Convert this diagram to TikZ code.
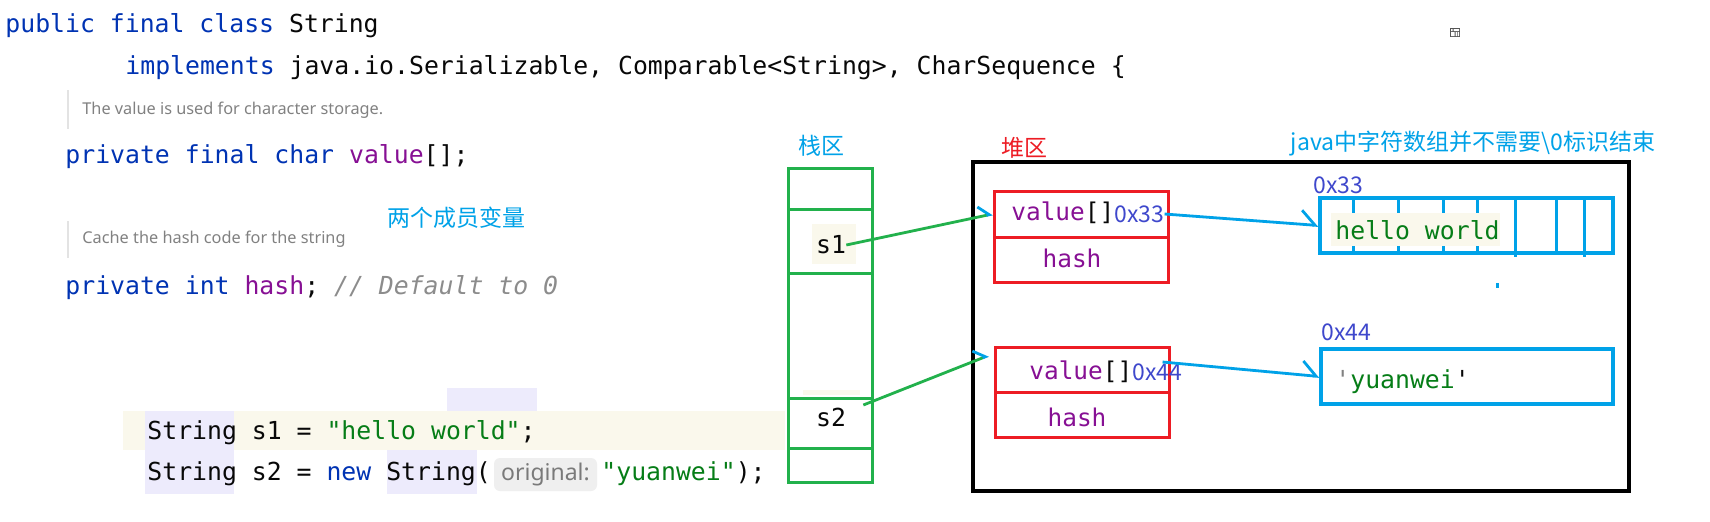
\documentclass[tikz,border=0pt]{standalone}
\usepackage{fontspec}
\setmonofont{DejaVu Sans Mono}
\newfontfamily\cjk{Noto Sans CJK SC}
\newfontfamily\uifont{Noto Sans}
\usetikzlibrary{arrows.meta}

\definecolor{codeblack}{HTML}{080808}
\definecolor{kwblue}{HTML}{0033B3}
\definecolor{fieldpurple}{HTML}{871094}
\definecolor{strgreen}{HTML}{067D17}
\definecolor{cmtgray}{HTML}{8C8C8C}
\definecolor{docgray}{HTML}{818181}
\definecolor{docbar}{HTML}{E3E3E3}
\definecolor{hintbg}{HTML}{EFEFEF}
\definecolor{hintgray}{HTML}{7A7A7A}
\definecolor{cream}{HTML}{FAF8EC}
\definecolor{lavender}{HTML}{EDEBFC}
\definecolor{paintblue}{HTML}{00A2E8}
\definecolor{paintred}{HTML}{ED1C24}
\definecolor{paintgreen}{HTML}{22B14C}
\definecolor{indigo}{HTML}{3F48CC}
\definecolor{icongray}{HTML}{555555}

\begin{document}
\begin{tikzpicture}
[x=.5pt, y=-.5pt,
 code/.style={anchor=base west, inner sep=0pt, text=codeblack, font=\ttfamily\fontsize{12.4}{15}\selectfont},
 doc/.style={anchor=base west, inner sep=0pt, text=docgray, font=\uifont\fontsize{8.15}{10}\selectfont},
 note/.style={inner sep=0pt, font=\cjk\fontsize{11.5}{14}\selectfont},
 addr/.style={anchor=west, inner sep=0pt, text=indigo, font=\cjk\fontsize{11.5}{14}\selectfont},
 field/.style={inner sep=0pt, text=fieldpurple, font=\ttfamily\fontsize{12.2}{15}\selectfont},
 cell/.style={draw=paintgreen, line width=1.5pt, minimum width=42pt, inner sep=0pt},
 redbox/.style={draw=paintred, line width=1.5pt, minimum width=87pt, minimum height=22.5pt, inner sep=0pt},
 arrbox/.style={draw=paintblue, line width=1.6pt, minimum width=146.5pt, minimum height=27.5pt, inner sep=0pt},
 ptr/.style={paintgreen, line width=1.4pt, -{Straight Barb[left, color=paintblue, length=5pt, width=10pt]}},
 ref/.style={paintblue, line width=1.4pt, -{Straight Barb[left, length=7pt, width=14pt]}}]
\fill[white] (0,0) rectangle (1710,521);
\useasboundingbox (0,0) rectangle (1710,521);

% editor highlights
\fill[cream] (123,411) rectangle (785,450);
\fill[lavender] (447,388) rectangle (537,411);
\fill[lavender] (145,411) rectangle (234,494);
\fill[lavender] (387,450) rectangle (477,494);
\fill[cream] (803,390) rectangle (860,395);
\fill[cream] (812,224) rectangle (856,264);
\fill[cream] (1331,213) rectangle (1500,246);

% source code
\node (decl) at (5,32) [code] {\textcolor{kwblue}{public final class} String};
\node (impl) at (125,74.5) [code] {\textcolor{kwblue}{implements} java.io.Serializable, Comparable<String>, CharSequence \{};
\draw[docbar, line width=1pt] (68,90) -- (68,129) (68,221) -- (68,258);
\node (doc1) at (82,114) [doc] {The value is used for character storage.};
\node (valdecl) at (65,163) [code] {\textcolor{kwblue}{private final char} \textcolor{fieldpurple}{value}[];};
\node (doc2) at (82,243) [doc] {Cache the hash code for the string};
\node (hashdecl) at (65,294) [code] {\textcolor{kwblue}{private int} \textcolor{fieldpurple}{hash}; \textcolor{cmtgray}{\itshape // Default to 0}};
\node (line5) at (147,439) [code] {String s1 = \textcolor{strgreen}{"hello world"};};
\node (line6) at (147,480) [code] {String s2 = \textcolor{kwblue}{new} String(};
\node (hint) at (545.5,474.5) [fill=hintbg, rounded corners=3pt, minimum width=51.5pt, minimum height=16.5pt, inner sep=0pt, text=hintgray, font=\uifont\fontsize{11.5}{13}\selectfont] {original:};
\node (line6b) at (601,480) [code] {\textcolor{strgreen}{"yuanwei"});};

% notes
\node (members) at (456,218) [note, text=paintblue] {两个成员变量};
\node (stacklbl) at (821,146) [note, text=paintblue] {栈区};
\node (heaplbl) at (1024,148) [note, text=paintred] {堆区};
\node (endnote) at (1473,144) [note, text=paintblue] {java中字符数组并不需要\textbackslash 0标识结束};

% stack
\node (cell1) at (830,188.5) [cell, minimum height=20.5pt] {};
\node (cell2) at (830,241) [cell, minimum height=32pt] {};
\node (cell3) at (830,335.5) [cell, minimum height=62.5pt] {};
\node (cell4) at (830,423) [cell, minimum height=25pt] {};
\node (cell5) at (830,465) [cell, minimum height=17pt] {};
\node (s1) at (831,245) [inner sep=0pt, text=codeblack, font=\ttfamily\fontsize{12.4}{15}\selectfont] {s1};
\node (s2) at (831,417) [inner sep=0pt, text=codeblack, font=\ttfamily\fontsize{12.4}{15}\selectfont] {s2};

% heap
\node (heap) at (1301,326.5) [draw, line width=2pt, minimum width=328pt, minimum height=164.5pt, inner sep=0pt] {};
\node (val1) at (1081,214) [redbox, minimum height=23pt] {};
\node (hsh1) at (1081,259.5) [redbox] {};
\node (val2) at (1082,369.5) [redbox] {};
\node (hsh2) at (1082,414.5) [redbox] {};
\node (v1) at (1011,213) [field, anchor=west] {value\textcolor{codeblack}{[]}};
\node (addr1) at (1114,214) [addr] {0x33};
\node (h1) at (1072,258) [field] {hash};
\node (v2) at (1029,372) [field, anchor=west] {value\textcolor{codeblack}{[]}};
\node (addr2) at (1132,372) [addr] {0x44};
\node (h2) at (1077,417) [field] {hash};

% char arrays
\node (lbl33) at (1313,185) [addr] {0x33};
\node (arr1) at (1466.5,225.5) [arrbox] {};
\draw[paintblue, line width=1.5pt] (1353,198) -- (1353,213) (1353,246) -- (1353,253)
  (1398,198) -- (1398,213) (1398,246) -- (1398,253)
  (1443,198) -- (1443,213) (1443,246) -- (1443,253)
  (1477,198) -- (1477,213) (1477,246) -- (1477,253)
  (1515,198) -- (1515,257) (1556,198) -- (1556,253) (1584,198) -- (1584,257);
\node (hello) at (1335,230) [code, anchor=west, text=strgreen] {hello world};
\fill[paintblue] (1496,283) rectangle (1499,288);
\node (lbl44) at (1321,332) [addr] {0x44};
\node (arr2) at (1467,376.5) [arrbox, minimum width=146pt] {};
\node (yuan) at (1335,382) [code, anchor=west] {\textcolor{docgray}{'}\textcolor{strgreen}{yuanwei}'};

% references
\draw[ptr] (s1.east) -- (val1.west);
\draw[ptr] ([shift={(17,-12)}]s2.east) -- ([shift={(-5,-14)}]val2.west);
\draw[ref] (addr1.east) -- (arr1.west);
\draw[ref] ([shift={(-20,-10)}]addr2.east) -- (arr2.west);

% toolbar icon
\fill[icongray] (1450,28) rectangle (1460,37);
\fill[white] (1451,29) rectangle (1452.5,31) (1453.5,29) rectangle (1459,31)
  (1451,32) rectangle (1454.5,36) (1455.5,32) rectangle (1456.8,36) (1457.7,32) rectangle (1459,36);
\end{tikzpicture}
\end{document}
